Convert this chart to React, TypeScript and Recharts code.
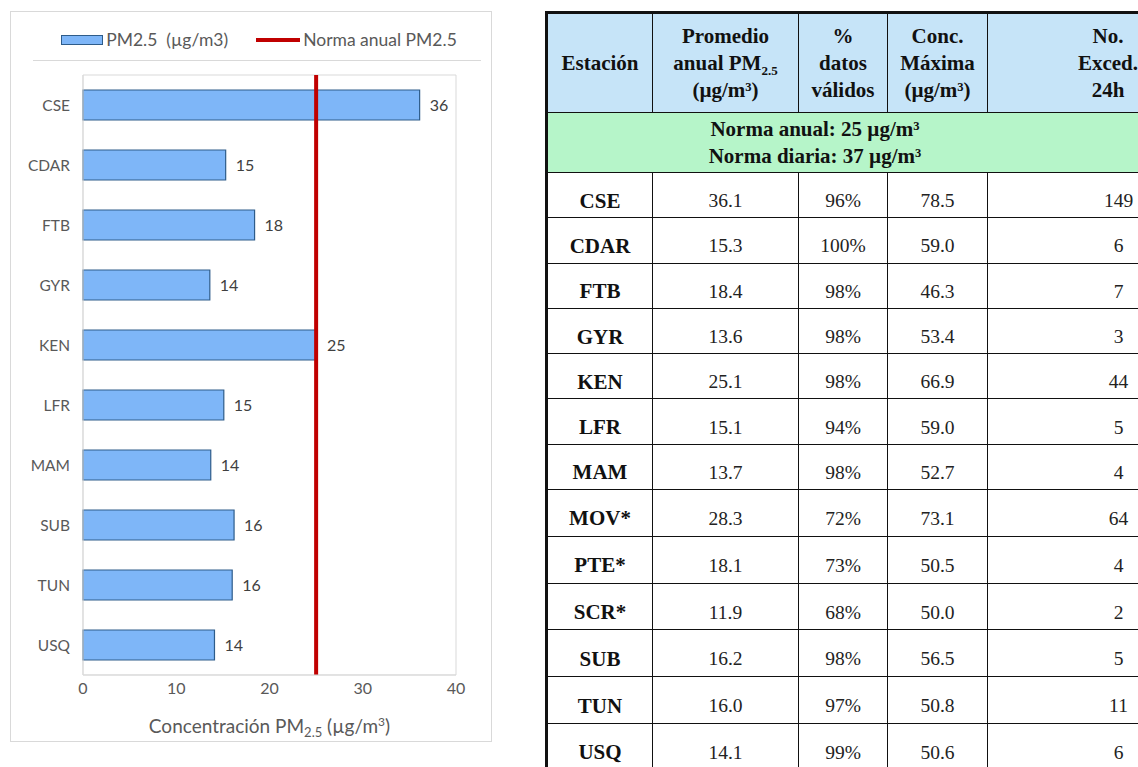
import React from "react";
import {
  BarChart,
  Bar,
  XAxis,
  YAxis,
  ReferenceLine,
  ReferenceArea,
  LabelList,
} from "recharts";

// table data (stations with * are not in the chart)
const estaciones = ["CSE", "CDAR", "FTB", "GYR", "KEN", "LFR", "MAM", "MOV*", "PTE*", "SCR*", "SUB", "TUN", "USQ"];
const promedio = [36.1, 15.3, 18.4, 13.6, 25.1, 15.1, 13.7, 28.3, 18.1, 11.9, 16.2, 16.0, 14.1];
const validos = ["96%", "100%", "98%", "98%", "98%", "94%", "98%", "72%", "73%", "68%", "98%", "97%", "99%"];
const concMax = [78.5, 59.0, 46.3, 53.4, 66.9, 59.0, 52.7, 73.1, 50.5, 50.0, 56.5, 50.8, 50.6];
const excedencias = [149, 6, 7, 3, 44, 5, 4, 64, 4, 2, 5, 11, 6];

const xTicks = [0, 10, 20, 30, 40];
const normaAnual = 25;

const chartData = estaciones
  .map((name, i) => ({ name, pm25: promedio[i] }))
  .filter((d) => !d.name.includes("*"));

const GRAY = "#595959";
const CHART_FONT = "Lato, 'Open Sans', sans-serif";

function AxisTitle(props: any) {
  const { viewBox } = props;
  const cx = viewBox.x + viewBox.width / 2;
  return (
    <text x={cx} y={viewBox.y + 58} textAnchor="middle" fill={GRAY} fontSize={19} fontFamily={CHART_FONT}>
      <tspan>Concentración PM</tspan>
      <tspan fontSize={13} dy={4}>2.5</tspan>
      <tspan dy={-4}> (µg/m</tspan>
      <tspan fontSize={12} dy={-7}>3</tspan>
      <tspan dy={7}>)</tspan>
    </text>
  );
}

function PmChart() {
  return (
    <div
      style={{
        position: "absolute",
        left: 10,
        top: 11,
        width: 482,
        height: 731,
        border: "1px solid #d9d9d9",
        boxSizing: "border-box",
        background: "#fff",
      }}
    >
      <div
        style={{
          position: "absolute",
          left: 8,
          top: 17,
          width: 480,
          display: "flex",
          justifyContent: "center",
          alignItems: "center",
          fontFamily: CHART_FONT,
          fontSize: 17.5,
          color: GRAY,
        }}
      >
        <span style={{ display: "inline-block", width: 40, height: 8, background: "#7eb6f8", border: "1px solid #2e5c8a", marginRight: 3 }} />
        <span>PM2.5&nbsp;&nbsp;(µg/m3)</span>
        <span style={{ display: "inline-block", width: 44, height: 4, background: "#c00000", marginLeft: 28, marginRight: 3 }} />
        <span>Norma anual PM2.5</span>
      </div>
      <div style={{ position: "absolute", left: 22, top: 48, width: 448, height: 1, background: "#d9d9d9" }} />
      <BarChart
        width={480}
        height={729}
        data={chartData}
        layout="vertical"
        margin={{ top: 63, right: 35, left: 0, bottom: 0 }}
      >
        <ReferenceArea x1={0} x2={40} fill="none" stroke="#d9d9d9" strokeWidth={1} ifOverflow="visible" />
        <XAxis
          type="number"
          domain={[0, 40]}
          ticks={xTicks}
          height={66}
          tickLine={false}
          axisLine={{ stroke: "#d9d9d9" }}
          tick={{ fill: GRAY, fontSize: 16, fontFamily: CHART_FONT }}
          label={<AxisTitle />}
        />
        <YAxis
          type="category"
          dataKey="name"
          width={72}
          tickLine={false}
          tickMargin={7}
          axisLine={{ stroke: "#d9d9d9" }}
          tick={{ fill: GRAY, fontSize: 15.5, fontFamily: CHART_FONT }}
        />
        <Bar dataKey="pm25" fill="#7eb6f8" stroke="#2e5c8a" strokeWidth={1.2} barSize={30} isAnimationActive={false}>
          <LabelList
            dataKey="pm25"
            position="right"
            offset={10}
            fill="#404040"
            fontSize={16}
            fontFamily={CHART_FONT}
            formatter={(v: any) => Math.round(Number(v))}
          />
        </Bar>
        <ReferenceLine x={normaAnual} stroke="#c00000" strokeWidth={4} />
      </BarChart>
    </div>
  );
}

const colWidths = [106, 146, 89, 100, 262];
const cellBorder = "1.5px solid #111";

function DataTable() {
  const th: React.CSSProperties = {
    background: "#c6e4f8",
    border: cellBorder,
    fontWeight: "bold",
    textAlign: "center",
    lineHeight: "27px",
    fontSize: 21,
    padding: 0,
  };
  const td: React.CSSProperties = {
    border: cellBorder,
    textAlign: "center",
    padding: 0,
    paddingTop: 12,
    verticalAlign: "middle",
    color: "#222",
  };
  return (
    <div style={{ position: "absolute", left: 545, top: 11, width: 593, height: 756, overflow: "hidden" }}>
      <table
        style={{
          borderCollapse: "collapse",
          tableLayout: "fixed",
          width: colWidths.reduce((a, b) => a + b, 0),
          fontFamily: "'Liberation Serif', 'DejaVu Serif', serif",
          fontSize: 19.5,
          color: "#111",
          borderTop: "3px solid #111",
          borderLeft: "3px solid #111",
        }}
      >
        <colgroup>
          {colWidths.map((w, i) => (
            <col key={i} style={{ width: w }} />
          ))}
        </colgroup>
        <tbody>
          <tr style={{ height: 100 }}>
            <th style={th}>Estación</th>
            <th style={th}>
              Promedio
              <br />
              anual PM<sub style={{ fontSize: 13, lineHeight: 0 }}>2.5</sub>
              <br />
              (µg/m³)
            </th>
            <th style={th}>
              %<br />datos<br />válidos
            </th>
            <th style={th}>
              Conc.<br />Máxima<br />(µg/m³)
            </th>
            <th style={{ ...th, textAlign: "left" }}>
              <div style={{ width: 240, textAlign: "center" }}>
                No.<br />Exced.<br />24h
              </div>
            </th>
          </tr>
          <tr style={{ height: 60 }}>
            <td
              colSpan={5}
              style={{ background: "#b6f5c9", border: cellBorder, fontWeight: "bold", fontSize: 21, lineHeight: "27px", padding: 0 }}
            >
              <div style={{ width: 534, textAlign: "center" }}>
                Norma anual: 25 µg/m³
                <br />
                Norma diaria: 37 µg/m³
              </div>
            </td>
          </tr>
          {estaciones.map((st, i) => (
            <tr key={st} style={{ height: i < 7 ? 45.3 : 46.8 }}>
              <td style={{ ...td, fontWeight: "bold", fontSize: 21, color: "#111" }}>{st}</td>
              <td style={td}>{promedio[i].toFixed(1)}</td>
              <td style={td}>{validos[i]}</td>
              <td style={td}>{concMax[i].toFixed(1)}</td>
              <td style={td}>{excedencias[i]}</td>
            </tr>
          ))}
        </tbody>
      </table>
    </div>
  );
}

export default function App() {
  return (
    <div style={{ position: "relative", width: 1138, height: 767, overflow: "hidden", background: "#fff" }}>
      <style>{"body{margin:0}"}</style>
      <PmChart />
      <DataTable />
    </div>
  );
}
